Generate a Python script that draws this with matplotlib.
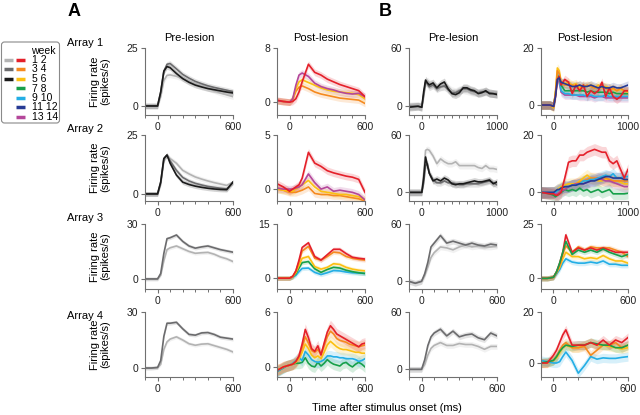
import matplotlib.pyplot as plt
from matplotlib.patches import FancyBboxPatch
from matplotlib.ticker import MultipleLocator

plt.rcParams['font.family'] = ['Liberation Sans', 'DejaVu Sans']

# semanas y colores
semanas = ['1 2', '3 4', '5 6', '7 8', '9 10', '11 12', '13 14']
col_pre = {'1 2': '#b3b3b3', '3 4': '#6b6b6d', '5 6': '#1a1a1a'}
col_post = {'1 2': '#e4202a', '3 4': '#f58a1f', '5 6': '#fcc012', '7 8': '#17a04a',
            '9 10': '#23aee5', '11 12': '#263a94', '13 14': '#b4479a'}

# ejes de tiempo (ms)
t600 = [-100, -50, 0, 25, 50, 75, 100, 150, 200, 250, 300, 350, 400, 450, 500, 550, 600]
t1000 = [-170, -50, 0, 25, 50, 75, 100, 150, 200, 250, 300, 350, 400, 450, 500, 550, 600,
         650, 700, 750, 800, 850, 900, 950, 1000]
t25 = [-100, -75, -50, -25, 0, 25, 50, 75, 100, 125, 150, 175, 200, 225, 250, 275, 300,
       325, 350, 375, 400, 425, 450, 475, 500, 525, 550, 575, 600]

# ---- Panel A (promedios) ----
a1_pre = {
    '1 2': [0, 0, 0, 4, 11, 13.2, 13.4, 12.8, 11.8, 10.6, 9.6, 8.6, 7.6, 6.6, 5.6, 4.8, 4.0],
    '3 4': [0, 0, 0, 6, 15, 18, 18.3, 16, 13.6, 12, 10.6, 9.6, 8.7, 8, 7.4, 6.8, 6.2],
    '5 6': [0, 0, 0, 6, 15, 17, 16.5, 14, 11.8, 10.2, 9, 8.2, 7.5, 7, 6.5, 6, 5.6],
}
a1_post = {
    '3 4': [0.2, 0.1, 0, 0.4, 1.6, 2.2, 2.4, 2.0, 1.5, 1.2, 1.0, 0.8, 0.6, 0.5, 0.4, 0.3, -0.2],
    '5 6': [0.2, 0.1, 0, 0.5, 2.0, 3.0, 3.3, 2.9, 2.5, 2.1, 1.8, 1.6, 1.5, 1.4, 1.3, 1.1, 0.5],
    '13 14': [0.2, 0.1, 0, 0.5, 2.5, 4.0, 4.3, 3.8, 2.8, 2.3, 2.0, 1.8, 1.5, 1.3, 1.2, 1.3, 0.8],
    '1 2': [0.3, 0.1, 0, 0.1, 0.5, 1.5, 3.0, 5.6, 4.4, 4.0, 3.4, 3.0, 2.6, 2.3, 2.0, 1.7, 0.8],
}
a2_pre = {
    '1 2': [0, 0, 0, 4, 14, 16.5, 15, 13, 10, 8.5, 7.2, 6.3, 5.5, 4.8, 4.2, 3.6, 5],
    '3 4': [0, 0, 0, 5, 15, 16.5, 14, 10, 7, 5.5, 4.5, 3.8, 3.2, 2.8, 2.4, 2.1, 5],
    '5 6': [0, 0, 0, 5, 15, 16.5, 13, 8, 5, 4, 3.3, 2.8, 2.4, 2.1, 1.9, 1.8, 5],
}
a2_post = {
    '3 4': [0, -0.1, -0.3, -0.3, -0.3, -0.2, -0.1, 0.2, -0.4, -0.5, -0.5, -0.6, -0.6, -0.7, -0.8, -0.9, -1.1],
    '5 6': [0, -0.1, -0.2, -0.2, 0, 0.2, 0.4, 0.8, 0.2, -0.2, -0.3, -0.4, -0.5, -0.5, -0.6, -0.7, -1.0],
    '13 14': [0.1, 0, 0, 0, 0.1, 0.2, 0.4, 1.4, 0.6, 0.0, 0.2, -0.2, -0.1, -0.2, -0.3, -0.5, -1.0],
    '1 2': [0.5, 0.2, -0.2, 0, 0.2, 0.4, 1.0, 3.4, 2.4, 2.1, 1.7, 1.5, 1.35, 1.2, 1.1, 0.9, -0.3],
}
a3_pre = {
    '1 2': [0, 0, 0, 2, 10, 16, 17, 18, 16.5, 15, 14, 14.3, 14.5, 13.5, 12, 11, 9.5],
    '3 4': [0, 0, 0, 3, 14, 22, 22.5, 24, 20.5, 18, 16.8, 17.5, 18, 17, 16, 15.3, 14.6],
}
a3_post = {
    '9 10': [0, 0, 0, 0.3, 0.8, 1.8, 2.7, 2.8, 1.6, 1.0, 1.5, 2.1, 2.0, 1.7, 1.5, 1.4, 1.3],
    '7 8': [0, 0, 0, 0.4, 1.2, 2.8, 4.3, 4.6, 2.6, 1.6, 2.4, 3, 2.8, 2.2, 1.8, 1.5, 1.3],
    '5 6': [0, 0, 0, 0.4, 1.5, 3.5, 5.5, 6, 3.2, 2.5, 3, 4, 3.8, 3, 2.5, 2.2, 2],
    '3 4': [0, 0, 0, 0.5, 2, 4.5, 7.5, 8.8, 5.5, 5, 6, 7.2, 7, 6, 5.5, 5.2, 5],
    '1 2': [0, 0, 0, 0.5, 2, 5, 8.5, 9.8, 6, 5, 6.5, 8, 8, 6.8, 5.8, 5.5, 5.3],
}
a4_pre = {
    '1 2': [0, 0, 0.2, 2, 10, 14, 15.5, 16.7, 15, 13, 12.2, 12.8, 13, 12, 11, 10, 8.6],
    '3 4': [0, 0, 0.3, 4, 17, 24, 24, 24.5, 21, 18, 17.6, 18.8, 19, 18, 16.5, 16, 15.5],
}
a4_post = {
    '7 8': [-0.5, -0.3, -0.1, 0.1, 0.2, 0.3, 0.4, 0.4, 0.5, 1.0, 0.4, 0.1, 0.0, 0.5, 0.1, 0.4, 0.8,
            0.5, 0.3, 0.2, 0.1, 0.4, 0.5, 0.2, 0.0, 0.3, 0.5, 0.3, 0.0],
    '9 10': [-0.5, -0.3, -0.1, 0.1, 0.2, 0.4, 0.7, 1.0, 0.7, 1.7, 1.3, 0.8, 0.6, 0.5, 0.6, 0.8, 1.2,
             1.2, 1.1, 1.1, 1.0, 1.0, 0.9, 0.9, 0.9, 0.8, 0.6, 0.7, 0.9],
    '5 6': [-0.3, -0.2, 0, 0.1, 0.2, 0.3, 0.5, 0.9, 1.6, 2.5, 2.0, 1.3, 1.0, 1.2, 0.9, 1.6, 2.4,
            2.8, 2.5, 2.2, 2.0, 1.9, 1.9, 1.8, 1.7, 1.6, 1.6, 1.5, 1.5],
    '3 4': [-0.3, -0.2, 0, 0.1, 0.2, 0.3, 0.6, 1.1, 2.1, 3.3, 2.6, 1.8, 1.6, 1.9, 1.4, 2.3, 3.3,
            3.9, 3.6, 3.1, 2.9, 2.8, 2.7, 2.5, 2.4, 2.3, 2.2, 2.3, 2.4],
    '1 2': [-0.4, -0.2, 0, 0.1, 0.2, 0.3, 0.6, 1.2, 2.5, 4.1, 3.2, 2.0, 1.7, 2.3, 1.3, 2.6, 3.8,
            4.5, 4.1, 3.6, 3.4, 3.2, 3.0, 2.8, 2.6, 2.4, 2.2, 2.5, 2.6],
}

# ---- Panel B (neurona ejemplo) ----
b1_pre = {
    '1 2': [0, 1, 0, 10, 24, 26, 24, 22, 20, 20, 20, 19, 16, 15, 17, 17, 16, 15, 14, 14, 14, 15, 14, 13, 13],
    '3 4': [0, 0, -1, 12, 25, 23, 20, 22, 18, 20, 21, 17, 14, 14, 16, 18, 18, 16, 15, 14, 15, 15, 14, 13, 13],
    '5 6': [-1, 0, -1, 15, 27, 24, 22, 24, 19, 23, 25, 18, 13, 12, 14, 19, 19, 17, 16, 13, 14, 16, 13, 13, 12],
}
b1_post = {
    '13 14': [0, 0, -0.5, 4, 9, 8, 4.5, 3.5, 3.5, 3.5, 3.5, 3, 3, 3, 3, 2.5, 3, 3, 2.5, 2.5, 2.5, 2.5, 2.5, 2.5, 2.5],
    '9 10': [0, 0, -0.5, 4, 11, 9, 5, 4, 4, 3.5, 3.5, 3.5, 3.5, 3, 3.5, 3, 3, 3, 3.5, 3, 3, 3, 3, 3, 3],
    '7 8': [0, 0, -0.5, 4, 10, 10, 7, 5, 5, 5, 5, 5, 5, 4.5, 5, 4.5, 4.5, 4.5, 4.5, 4, 4.5, 4, 4, 4, 4],
    '5 6': [0, 0, -1, 5, 13, 12, 8, 7.5, 8, 7, 7.5, 6, 7, 6.5, 7, 6, 7, 6, 6.5, 6, 5.5, 5, 5.5, 5, 4.5],
    '3 4': [0, 0, -0.5, 4, 12, 11, 8, 7, 7, 7, 6.5, 7, 6, 7, 6.5, 6, 6, 7, 6, 5, 6, 5, 6, 5, 5],
    '1 2': [0, 0, -0.5, 3, 9, 10, 7, 9, 8, 4, 7, 5, 7, 3, 5, 4, 5, 8, 3, 6, 3, 2, 3, 5, 5],
    '11 12': [0, 0, -0.5, 3, 9, 9.5, 8, 7.5, 7, 6.5, 6.5, 7, 6.5, 6.5, 7, 6.5, 6, 6.5, 6, 6, 6.5, 6, 6, 6.5, 7],
}
b2_pre = {
    '1 2': [0, 0, 0, 20, 44, 45, 44, 38, 30, 35, 32, 30, 30, 32, 28, 28, 28, 28, 28, 26, 25, 28, 25, 25, 24],
    '3 4': [0, 0, 0, 10, 28, 30, 20, 13, 10, 10, 12, 10, 10, 9, 8, 8, 9, 9, 9, 9, 10, 11, 12, 10, 8],
    '5 6': [0, 0, 0, 15, 37, 28, 20, 12, 14, 12, 15, 13, 9, 8, 9, 9, 10, 11, 12, 11, 11, 12, 13, 9, 11],
}
b2_post = {
    '7 8': [0, -0.5, -1, -1.5, -1, -0.5, 0, 1, 0.5, 1, 0.5, 1.5, 0.5, 1, 0, 0.5, 1, 0, 0.5, 1, -0.5, -0.5, -0.5, -0.5, -0.3],
    '5 6': [0, 0, 0, 0.5, 1, 1.5, 2, 2.5, 3, 3, 3, 4, 5, 6, 5, 4.5, 4, 4, 4.5, 4.5, 4, 4, 3.5, 3, 3],
    '3 4': [0, 0, 0, 0.3, 0.5, 1, 1, 1.5, 2, 2.5, 3, 3.5, 4, 4.5, 5, 5, 5, 5, 5, 4.5, 4, 4, 4, 4, 4],
    '13 14': [0, 0, 0, -0.5, -0.5, 0, 0.5, 1, 2, 2.5, 3, 3, 3, 3.5, 4, 4.5, 5, 4.5, 4, 4, 3.5, 3, 2.5, 2, 2],
    '9 10': [0, 0, 0, 0, 0.5, 1, 1.5, 2, 2, 2.5, 2.5, 3, 4, 4, 4.5, 4.5, 5, 5.5, 6, 5.5, 6.5, 5, 5, 5.5, 5.5],
    '11 12': [0, 0, 0, 0.5, 1, 1, 1.5, 2, 2, 2.5, 2.5, 3, 3, 3.5, 4, 4, 4.5, 5, 5.5, 5.5, 5, 5, 5, 4.5, 4.5],
    '1 2': [0, -0.5, -0.5, -1, -1, -0.5, 0, 5, 10.5, 11, 11, 13, 13, 14, 14.5, 15, 14.5, 14, 14, 11, 10, 11, 8, 5, 8],
}
b3_pre = {
    '1 2': [0, -2, 0, 6, 15, 25, 30, 36, 35, 33, 36, 38, 36, 37, 36, 36, 37],
    '3 4': [0, -2, 0, 8, 20, 36, 40, 48, 40, 42, 40, 38, 40, 38, 37, 39, 38],
}
b3_post = {
    '9 10': [0, 0, 0.5, 2, 4, 7, 9, 7.5, 7, 7, 7.5, 7, 8, 6.5, 6.5, 6, 6],
    '5 6': [0, 0, 0.5, 2.5, 5, 9, 12, 10, 10, 9, 9.5, 9, 10.5, 9, 8, 8, 7],
    '3 4': [0, 0, 0.5, 3, 6, 11, 15, 12, 14.5, 13, 14.5, 14, 14, 14, 13, 12, 10],
    '1 2': [0, 0, 0.5, 3, 7, 12, 20, 12, 14, 13, 14, 13, 14, 13, 12, 12, 12],
    '7 8': [0, 0, 0.5, 3, 7, 12, 17, 11, 13, 12, 13, 12, 13.5, 12, 11, 10, 11],
}
b4_pre = {
    '1 2': [0, 0, 0, 5, 15, 22, 25, 28, 25, 25, 27, 26, 26, 24, 21, 24, 24],
    '3 4': [0, 0, 0, 10, 25, 34, 38, 42, 35, 40, 34, 36, 37, 33, 31, 38, 35],
}
b4_post = {
    '5 6': [0, 0, 1, 2, 4, 6, 7, 6, 6, 7, 8, 7, 7, 6.5, 6, 5.5, 6],
    '3 4': [0, 0, 1, 2.5, 5, 7, 8, 6, 6, 6.5, 3, 5, 7, 7, 8, 6, 7],
    '9 10': [1, 0.5, 0, 0, 0.5, 2.5, 4.3, 1, -4, -1, 2.5, 1.5, 2, 1.8, 1.8, 2.2, 2.5],
    '7 8': [0, 0.5, 1, 2.5, 4.5, 6, 7, 6.5, 7, 7, 8, 7.5, 7, 7, 6, 6, 7],
    '1 2': [0, 0, 3, 5, 8, 11, 13, 7, 7, 7, 8, 7, 9, 7, 9, 8, 10],
}

# fila, columna, tiempos, datos, colores, ylim, tope, sem
paneles = [
    (0, 0, t600, a1_pre, col_pre, (-3.9, 25), 25, 1.2),
    (0, 1, t600, a1_post, col_post, (-1.9, 8), 8, 0.5),
    (0, 2, t1000, b1_pre, col_pre, (-9, 60), 60, 4),
    (0, 3, t1000, b1_post, col_post, (-3.5, 20), 20, 1.5),
    (1, 0, t600, a2_pre, col_pre, (-3, 25), 25, 1.0),
    (1, 1, t600, a2_post, col_post, (-1.1, 5), 5, 0.35),
    (1, 2, t1000, b2_pre, col_pre, (-9, 60), 60, 3.5),
    (1, 3, t1000, b2_post, col_post, (-3, 20), 20, 2),
    (2, 0, t600, a3_pre, col_pre, (-5.5, 30), 30, 1.0),
    (2, 1, t600, a3_post, col_post, (-3, 15), 15, 0.6),
    (2, 2, t600, b3_pre, col_pre, (-8, 60), 60, 3),
    (2, 3, t600, b3_post, col_post, (-4.9, 25), 25, 1.2),
    (3, 0, t600, a4_pre, col_pre, (-4.8, 30), 30, 1.0),
    (3, 1, t25, a4_post, col_post, (-1.1, 6), 6, 0.6),
    (3, 2, t600, b4_pre, col_pre, (-8, 60), 60, 3),
    (3, 3, t600, b4_post, col_post, (-5.5, 20), 20, 1.8),
]

W, H = 640, 415
fig = plt.figure(figsize=(6.4, 4.15), dpi=100)


def caja(x0, x1, y0, y1):
    return [x0 / W, 1 - y1 / H, (x1 - x0) / W, (y1 - y0) / H]


cols = [(145, 233), (277, 365), (409, 497), (541, 628)]
filas = [(48, 115), (135, 201), (224, 289), (312, 377)]
gris_eje = '#707070'

for fila, col, t, datos, colores, ylim, tope, sem in paneles:
    ax = fig.add_axes(caja(*cols[col], *filas[fila]))
    for sem_key, y in datos.items():
        c = colores[sem_key]
        lo = [v - sem for v in y]
        hi = [v + sem for v in y]
        ax.fill_between(t, lo, hi, color=c, alpha=0.18, lw=0)
        ax.plot(t, y, color=c, lw=1.2)
    xmax = 1000 if t[-1] == 1000 else 600
    ax.set_xlim(t[0], xmax)
    ax.set_ylim(*ylim)
    ax.set_xticks([0, xmax])
    ax.xaxis.set_minor_locator(MultipleLocator(100))
    ax.set_yticks([0, tope])
    for s in ['top', 'right']:
        ax.spines[s].set_visible(False)
    for s in ['left', 'bottom']:
        ax.spines[s].set_color(gris_eje)
        ax.spines[s].set_linewidth(0.8)
    ax.tick_params(which='major', length=3, width=0.8, color=gris_eje, labelsize=7.5, pad=2,
                   labelcolor='#222222')
    ax.tick_params(which='minor', length=2, width=0.7, color=gris_eje)
    if fila == 0:
        ax.set_title('Pre-lesion' if col % 2 == 0 else 'Post-lesion', fontsize=8, pad=5)
    if col == 0:
        ax.set_ylabel('Firing rate\n(spikes/s)', fontsize=8, linespacing=1.0)
        ax.yaxis.set_label_coords(-0.4, 0.5)

# etiquetas de arrays
for nombre, y in zip(['Array 1', 'Array 2', 'Array 3', 'Array 4'], [43, 129, 218, 316]):
    fig.text(67 / W, 1 - y / H, nombre, fontsize=8, va='center', ha='left')

fig.text(74 / W, 1 - 12 / H, 'A', fontsize=13, fontweight='bold', ha='center', va='center')
fig.text(385 / W, 1 - 12 / H, 'B', fontsize=13, fontweight='bold', ha='center', va='center')
fig.text(387 / W, 1 - 408 / H, 'Time after stimulus onset (ms)', fontsize=8, ha='center', va='center')

# leyenda manual
leg = fig.add_axes(caja(0, 64, 38, 128))
leg.set_xlim(0, 64)
leg.set_ylim(128, 38)
leg.axis('off')
leg.add_patch(FancyBboxPatch((1.5, 42), 58, 81, boxstyle='round,pad=0,rounding_size=3',
                             edgecolor='#8a8a8a', facecolor='white', lw=0.8))
leg.text(31, 51, 'week', fontsize=7.5, va='center', ha='left')
for i, s in enumerate(semanas):
    y = 60 + 9.5 * i
    if s in col_pre:
        leg.plot([4, 13], [y, y], color=col_pre[s], lw=2.5, solid_capstyle='butt')
    leg.plot([16, 25], [y, y], color=col_post[s], lw=2.5, solid_capstyle='butt')
    leg.text(32, y, s, fontsize=7.5, va='center', ha='left')

fig.savefig('out.png', dpi=100)
